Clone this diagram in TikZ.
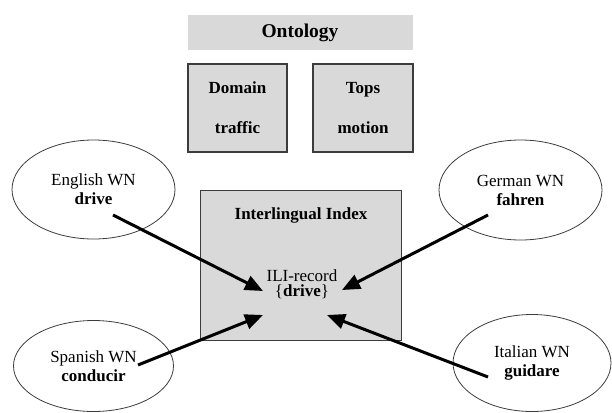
\documentclass[tikz,border=0pt]{standalone}
\usepackage{fontspec}
\setmainfont{Liberation Serif}[BoldFont={Liberation Serif Bold}]
\usepackage{xcolor}
\usepackage{tikz}
\usetikzlibrary{arrows.meta,shapes.geometric,positioning}
\definecolor{boxgray}{RGB}{217,217,217}
\definecolor{edgegray}{RGB}{60,60,60}
\tikzset{
  wnnode/.style={draw=edgegray, ellipse, line width=0.8pt, inner sep=0pt, align=center,
    font=\rmfamily\fontsize{17}{19}\selectfont},
  ontobox/.style={draw=edgegray, fill=boxgray, rectangle, line width=1.2pt, inner sep=0pt,
    minimum width=99pt, minimum height=88pt, align=center, font=\rmfamily\bfseries\fontsize{17}{19}\selectfont},
  wnarrow/.style={line width=3pt, -{Triangle[length=18pt,width=15pt]}}
}

\begin{document}
\begin{tikzpicture}[x=1pt, y=-1pt]
        \useasboundingbox (0,0) rectangle (612,412);

        % ontology part
        \node[fill=boxgray, minimum width=225pt, minimum height=35pt, inner sep=0pt,
          font=\rmfamily\bfseries\fontsize{19.5}{22}\selectfont] (onto) at (300,32.5) {Ontology};
        \node[ontobox] (domain) at (237.5,108) {Domain\\[21pt]traffic};
        \node[ontobox, minimum width=100pt] (tops) at (363,108) {Tops\\[21pt]motion};

        % interlingual index
        \node[draw=edgegray, fill=boxgray, line width=0.9pt, minimum width=201pt,
          minimum height=150pt] (ili) at (300.5,265) {};
        \node[font=\rmfamily\bfseries\fontsize{17}{19}\selectfont] (ilititle) at (301,215) {Interlingual Index};
        \node[align=center, font=\rmfamily\fontsize{17}{15.5}\selectfont] (ilirec) at (302,284)
          {ILI-record\\\{\textbf{drive}\}};

        % wordnets
        \node[wnnode, minimum width=163pt, minimum height=99pt] (en) at (93.5,189.5)
          {English WN\\\textbf{drive}};
        \node[wnnode, minimum width=163pt, minimum height=100pt] (de) at (520.5,190)
          {German WN\\\textbf{fahren}};
        \node[wnnode, minimum width=160pt, minimum height=91pt] (es) at (93.5,366)
          {Spanish WN\\\textbf{conducir}};
        \node[wnnode, minimum width=158pt, minimum height=97pt] (it) at (532,363)
          {Italian WN\\\textbf{guidare}};

        \coordinate (en-tail) at (113,215);
        \coordinate (en-tip) at (263,291);
        \coordinate (de-tail) at (488,215);
        \coordinate (de-tip) at (342,290);
        \coordinate (es-tail) at (138,365);
        \coordinate (es-tip) at (263,315);
        \coordinate (it-tail) at (488,377);
        \coordinate (it-tip) at (327,315);

        \draw[wnarrow] (en-tail) -- (en-tip);
        \draw[wnarrow] (de-tail) -- (de-tip);
        \draw[wnarrow] (es-tail) -- (es-tip);
        \draw[wnarrow] (it-tail) -- (it-tip);
    \end{tikzpicture}
\end{document}
